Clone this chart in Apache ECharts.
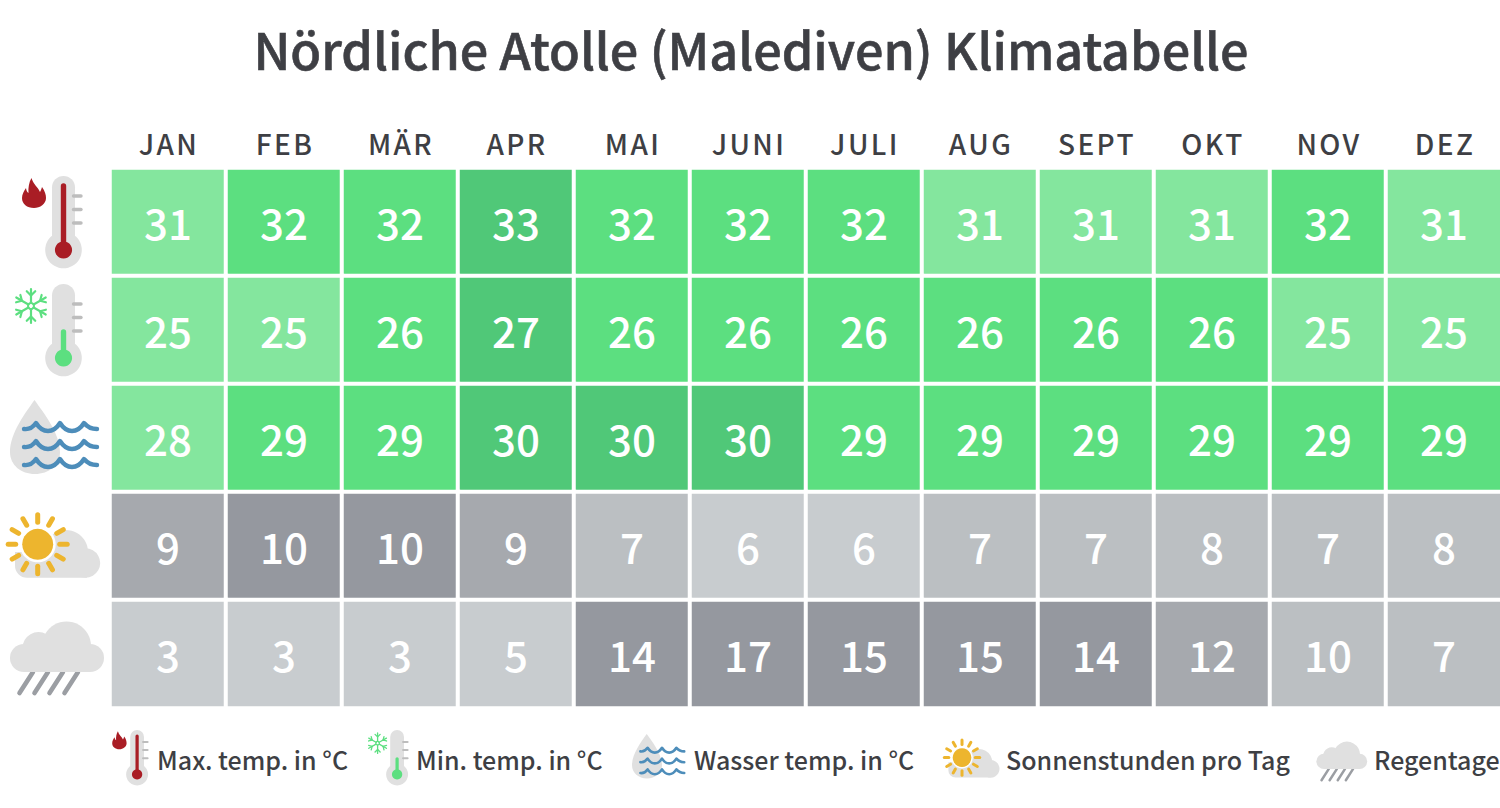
<!DOCTYPE html>
<html>
<head>
<meta charset="utf-8">
<title>Klimatabelle</title>
<script src="https://cdn.jsdelivr.net/npm/echarts@6/dist/echarts.min.js"></script>
<style>
  html, body { margin: 0; padding: 0; background: #fff; }
  #chart { width: 1500px; height: 808px; }
  /* month labels are spaced out a little, echarts has no option for it */
  #chart svg text[style*="28px"] { letter-spacing: 2.4px; }
</style>
</head>
<body>
<div id="chart"></div>
<script>
const months = ['JAN', 'FEB', 'MÄR', 'APR', 'MAI', 'JUNI', 'JULI', 'AUG', 'SEPT', 'OKT', 'NOV', 'DEZ']
const rows = ['Max. temp. in °C', 'Min. temp. in °C', 'Wasser temp. in °C', 'Sonnenstunden pro Tag', 'Regentage']

const maxTemp = [31, 32, 32, 33, 32, 32, 32, 31, 31, 31, 32, 31]
const minTemp = [25, 25, 26, 27, 26, 26, 26, 26, 26, 26, 25, 25]
const waterTemp = [28, 29, 29, 30, 30, 30, 29, 29, 29, 29, 29, 29]
const sunHours = [9, 10, 10, 9, 7, 6, 6, 7, 7, 8, 7, 8]
const rainDays = [3, 3, 3, 5, 14, 17, 15, 15, 14, 12, 10, 7]
const table = [maxTemp, minTemp, waterTemp, sunHours, rainDays]

// 每行的分段：value >= break 时颜色加深一档
const greens = ['#84E69E', '#5CDF80', '#50C878']
const greys = ['#C8CCCF', '#BBBFC2', '#A6A9AE', '#95989F']
const rowBreaks = [[32, 33], [26, 27], [29, 30], [7, 9, 10], [7, 12, 14]]
const rowColors = [greens, greens, greens, greys, greys]

const FONT = '"Noto Sans CJK JP", "Noto Sans", sans-serif'
const DARK = '#3E3F44'
const CLOUD = '#E0E0E0'
const GREEN = '#5CDF80'
const RED = '#A91D25'

function cellColor (row, value) {
  const level = rowBreaks[row].filter(b => value >= b).length
  return rowColors[row][level]
}

const cells = []
table.forEach((list, r) => {
  list.forEach((v, c) => {
    cells.push({ value: [c, r, v], itemStyle: { color: cellColor(r, v) } })
  })
})

// ---- icons, drawn at table size and scaled down for the legend ----
// the graphic component has no 'path' type, so svg paths get registered as shapes
let shapeCount = 0
function svgPath (pathData, style) {
  const name = 'iconPath' + shapeCount++
  echarts.graphic.registerShape(name, echarts.graphic.extendPath(pathData, {}))
  return { type: name, style }
}

function line (x1, y1, x2, y2, color, width) {
  return { type: 'line', shape: { x1, y1, x2, y2 }, style: { stroke: color, lineWidth: width, lineCap: 'round' } }
}

function thermometer (fill, tubeTop, y0) {
  return [
    { type: 'circle', shape: { cx: 63.5, cy: y0 + 74, r: 18.3 }, style: { fill: CLOUD } },
    { type: 'rect', shape: { x: 52, y: y0, width: 23, height: 70, r: [11.5, 11.5, 0, 0] }, style: { fill: CLOUD } },
    line(73.5, y0 + 20, 81, y0 + 20, '#BDBDBD', 3.4),
    line(73.5, y0 + 33.5, 81, y0 + 33.5, '#BDBDBD', 3.4),
    line(73.5, y0 + 47, 81, y0 + 47, '#BDBDBD', 3.4),
    line(63.5, tubeTop, 63.5, y0 + 70, fill, 5.4),
    { type: 'circle', shape: { cx: 63.5, cy: y0 + 74, r: 8.6 }, style: { fill } }
  ]
}

function flame () {
  return svgPath('M31.5 178C33 184 38 187 40 192C41 190 41.5 189 42 187C45 191 46 195 46 198C46 204 40 208 34 208C27 208 22 204 22 198C22 194 24 191 26 188C26.5 191 27 192 28.5 193C28 188 29 182 31.5 178Z', { fill: RED })
}

function snowflake (cx, cy) {
  const out = [{ type: 'circle', shape: { cx, cy, r: 3 }, style: { fill: 'none', stroke: GREEN, lineWidth: 2 } }]
  for (let i = 0; i < 6; i++) {
    const a = (90 + i * 60) * Math.PI / 180
    const px = r => cx + r * Math.cos(a)
    const py = r => cy - r * Math.sin(a)
    out.push(line(px(3), py(3), px(17), py(17), GREEN, 2.2))
    ;[-1, 1].forEach(s => {
      const b = a + s * Math.PI / 4
      out.push(line(px(10.5), py(10.5), px(10.5) + 6 * Math.cos(b), py(10.5) - 6 * Math.sin(b), GREEN, 2.2))
    })
  }
  return out
}

function waterIcon () {
  const wave = y => 'M24 ' + (y + 1) + 'Q31 ' + (y + 2) + ' 36 ' + (y - 5) + 'Q41 ' + (y + 3) + ' 48 ' + (y + 3) + 'Q55 ' + (y + 3) + ' 60 ' + (y - 5) +
    'Q65 ' + (y + 3) + ' 72 ' + (y + 3) + 'Q79 ' + (y + 3) + ' 84 ' + (y - 5) + 'Q89 ' + (y + 1) + ' 97 ' + (y + 1)
  const waves = [428, 446, 464].map(y => svgPath(wave(y), { fill: 'none', stroke: '#4D8DBA', lineWidth: 4.4, lineCap: 'round', lineJoin: 'round' }))
  return [svgPath('M34.5 400C43 412 60 433 60 452C60 465 49 474 35 474C21 474 10 465 10 452C10 433 26 412 34.5 400Z', { fill: CLOUD })].concat(waves)
}

function sunIcon () {
  const cx = 37.7
  const cy = 544.3
  const out = [
    { type: 'circle', shape: { cx: 66, cy: 552, r: 22 }, style: { fill: CLOUD } },
    { type: 'circle', shape: { cx: 85.5, cy: 563, r: 14.7 }, style: { fill: CLOUD } },
    { type: 'rect', shape: { x: 15, y: 552, width: 72, height: 25.7, r: [0, 0, 0, 12] }, style: { fill: CLOUD } },
    { type: 'circle', shape: { cx, cy, r: 18 }, style: { fill: '#fff' } },
    { type: 'circle', shape: { cx, cy, r: 15.5 }, style: { fill: '#EDB52E' } }
  ]
  for (let i = 0; i < 12; i++) {
    const a = i * 30 * Math.PI / 180
    out.push(line(cx + 22 * Math.cos(a), cy + 22 * Math.sin(a), cx + 29.5 * Math.cos(a), cy + 29.5 * Math.sin(a), '#EDB52E', 5))
  }
  return out
}

function rainIcon () {
  const streaks = [33, 48, 63, 78].map(x => line(x, 672, x - 13.5, 693, '#9B9EA3', 4.6))
  return streaks.concat([
    { type: 'circle', shape: { cx: 66.5, cy: 646, r: 24.5 }, style: { fill: CLOUD } },
    { type: 'circle', shape: { cx: 38.5, cy: 648, r: 16 }, style: { fill: CLOUD } },
    { type: 'rect', shape: { x: 10, y: 644, width: 94, height: 28, r: 14 }, style: { fill: CLOUD } }
  ])
}

const hotIcon = () => [flame()].concat(thermometer(RED, 186, 176))
const coldIcon = () => snowflake(31, 306).concat(thermometer(GREEN, 332, 284))

const legendItems = [
  { icon: hotIcon, x: 99, y: 624.4, s: 0.6, textX: 157 },
  { icon: coldIcon, x: 359, y: 559.6, s: 0.6, textX: 416 },
  { icon: waterIcon, x: 626, y: 494, s: 0.6, textX: 694 },
  { icon: sunIcon, x: 939.4, y: 431, s: 0.6, textX: 1006 },
  { icon: rainIcon, x: 1311, y: 406, s: 0.54, textX: 1374 }
]

const graphics = [hotIcon, coldIcon, waterIcon, sunIcon, rainIcon].map(fn => ({ type: 'group', children: fn() }))
legendItems.forEach((item, i) => {
  graphics.push({ type: 'group', x: item.x, y: item.y, scaleX: item.s, scaleY: item.s, children: item.icon() })
  graphics.push({
    type: 'text',
    x: item.textX,
    y: 759,
    style: { text: rows[i], font: '500 25px ' + FONT, fill: DARK, textVerticalAlign: 'middle' }
  })
})

const myChart = echarts.init(document.getElementById('chart'), null, { renderer: 'svg' })
myChart.setOption({
  animation: false,
  backgroundColor: '#fff',
  title: {
    text: 'Nördliche Atolle (Malediven) Klimatabelle',
    left: 746,
    top: 18,
    textAlign: 'center',
    textStyle: { fontFamily: FONT, fontSize: 50.3, fontWeight: 500, color: DARK, textBorderColor: DARK, textBorderWidth: 0.6 }
  },
  grid: { left: 110, top: 168, width: 1392, height: 540, outerBoundsMode: 'none' },
  xAxis: {
    type: 'category',
    position: 'top',
    data: months,
    axisLine: { show: false },
    axisTick: { show: false },
    splitLine: { show: false },
    axisLabel: { interval: 0, margin: 11, padding: [0, 0, 0, 2], fontFamily: FONT, fontSize: 28, fontWeight: 500, color: DARK }
  },
  yAxis: {
    type: 'category',
    inverse: true,
    data: rows,
    show: false
  },
  series: [{
    type: 'heatmap',
    data: cells,
    itemStyle: { borderColor: '#fff', borderWidth: 4 },
    label: {
      show: true,
      formatter: p => p.value[2],
      offset: [0, -1],
      fontFamily: FONT,
      fontSize: 42,
      fontWeight: 500,
      color: '#fff'
    },
    emphasis: { disabled: true }
  }],
  graphic: graphics
})
</script>
</body>
</html>
